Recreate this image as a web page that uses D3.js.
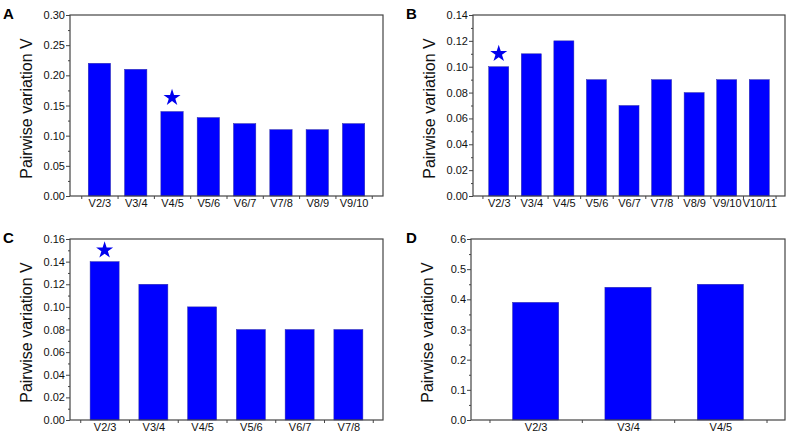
<!DOCTYPE html>
<meta charset="utf-8">
<html lang="en">
<head>
<script src="https://d3js.org/d3.v7.min.js"></script>
<style>
  body { margin: 0; background: #fff; }
  text { font-family: Arial, "Liberation Sans", sans-serif; }
</style>
</head>
<body>
<div id="my_dataviz"></div>
<script>
// data
var catsA = ["V2/3", "V3/4", "V4/5", "V5/6", "V6/7", "V7/8", "V8/9", "V9/10"];
var valsA = [0.22, 0.21, 0.14, 0.13, 0.12, 0.11, 0.11, 0.12];
var ticksA = [0, 0.05, 0.10, 0.15, 0.20, 0.25, 0.30];

var catsB = ["V2/3", "V3/4", "V4/5", "V5/6", "V6/7", "V7/8", "V8/9", "V9/10", "V10/11"];
var valsB = [0.10, 0.11, 0.12, 0.09, 0.07, 0.09, 0.08, 0.09, 0.09];
var ticksB = [0, 0.02, 0.04, 0.06, 0.08, 0.10, 0.12, 0.14];

var catsC = ["V2/3", "V3/4", "V4/5", "V5/6", "V6/7", "V7/8"];
var valsC = [0.14, 0.12, 0.10, 0.08, 0.08, 0.08];
var ticksC = [0, 0.02, 0.04, 0.06, 0.08, 0.10, 0.12, 0.14, 0.16];

var catsD = ["V2/3", "V3/4", "V4/5"];
var valsD = [0.39, 0.44, 0.45];
var ticksD = [0, 0.1, 0.2, 0.3, 0.4, 0.5, 0.6];

// star marks the chosen pair: [category, height in data units]
var starA = ["V4/5", 0.163];
var starB = ["V2/3", 0.11];
var starC = ["V2/3", 0.15];

var width = 789, height = 438;
var svg = d3.select("#my_dataviz").append("svg")
  .attr("width", width)
  .attr("height", height);

var panels = [
  { letter: "A", cats: catsA, vals: valsA, ticks: ticksA, digits: 2, star: starA,
    x0: 70, x1: 383, y0: 15, y1: 196, pad: 0.81, bw: 0.615 },
  { letter: "B", cats: catsB, vals: valsB, ticks: ticksB, digits: 2, star: starB,
    x0: 473, x1: 785, y0: 15, y1: 196, pad: 0.79, bw: 0.615 },
  { letter: "C", cats: catsC, vals: valsC, ticks: ticksC, digits: 2, star: starC,
    x0: 70, x1: 383, y0: 239, y1: 420, pad: 0.71, bw: 0.595 },
  { letter: "D", cats: catsD, vals: valsD, ticks: ticksD, digits: 1, star: null,
    x0: 471, x1: 785, y0: 239, y1: 420, pad: 0.70, bw: 0.5 }
];

var frameColor = "#444";

panels.forEach(function (p) {
  var n = p.cats.length;
  var x = d3.scaleLinear().domain([-p.pad, n - 1 + p.pad]).range([p.x0, p.x1]);
  var y = d3.scaleLinear().domain([0, p.ticks[p.ticks.length - 1]]).range([p.y1, p.y0]);
  var g = svg.append("g");

  // bars
  var bwPx = (x(1) - x(0)) * p.bw;
  g.selectAll("rect.bar")
    .data(p.vals)
    .enter()
    .append("rect")
    .attr("class", "bar")
    .attr("x", function (d, i) { return x(i) - bwPx / 2; })
    .attr("y", function (d) { return y(d); })
    .attr("width", bwPx)
    .attr("height", function (d) { return y(0) - y(d); })
    .attr("fill", "#0000ff")
    .attr("stroke", "#3030a8")
    .attr("stroke-width", 0.5);

  // star
  if (p.star) {
    var star = d3.symbol().type(d3.symbolStar).size(90);
    g.append("path")
      .attr("d", star())
      .attr("transform", "translate(" + x(p.cats.indexOf(p.star[0])) + "," + y(p.star[1]) + ")")
      .attr("fill", "#0000ee");
  }

  // y axis (major + minor ticks)
  var minor = [];
  for (var i = 0; i < p.ticks.length - 1; i++) minor.push((p.ticks[i] + p.ticks[i + 1]) / 2);
  g.append("g")
    .attr("transform", "translate(" + p.x0 + ",0)")
    .call(d3.axisLeft(y).tickValues(minor).tickSize(2).tickFormat(""))
    .call(function (a) { a.select(".domain").remove(); a.selectAll("line").attr("stroke", frameColor); });
  g.append("g")
    .attr("transform", "translate(" + p.x0 + ",0)")
    .call(d3.axisLeft(y).tickValues(p.ticks).tickSize(4).tickPadding(1)
      .tickFormat(d3.format("." + p.digits + "f")))
    .call(function (a) {
      a.select(".domain").remove();
      a.selectAll("line").attr("stroke", frameColor);
      a.selectAll("text").attr("font-size", 11).attr("fill", "#111")
        .attr("font-family", "Arial, 'Liberation Sans', sans-serif");
    });

  // x axis: ticks at category boundaries, labels under bars
  var bounds = d3.range(n + 1).map(function (k) { return k - 0.5; });
  g.append("g")
    .attr("transform", "translate(0," + p.y1 + ")")
    .call(d3.axisBottom(x).tickValues(bounds).tickSize(3).tickFormat(""))
    .call(function (a) { a.select(".domain").remove(); a.selectAll("line").attr("stroke", frameColor); });
  g.append("g")
    .attr("transform", "translate(0," + p.y1 + ")")
    .call(d3.axisBottom(x).tickValues(d3.range(n)).tickSize(0).tickPadding(3)
      .tickFormat(function (d) { return p.cats[d]; }))
    .call(function (a) {
      a.select(".domain").remove();
      a.selectAll("text").attr("font-size", 11).attr("fill", "#111")
        .attr("font-family", "Arial, 'Liberation Sans', sans-serif");
    });

  // frame
  g.append("rect")
    .attr("x", p.x0).attr("y", p.y0)
    .attr("width", p.x1 - p.x0).attr("height", p.y1 - p.y0)
    .attr("fill", "none")
    .attr("stroke", frameColor)
    .attr("stroke-width", 1.2);

  // y title
  g.append("text")
    .attr("transform", "translate(" + (p.x0 - 38) + "," + ((p.y0 + p.y1) / 2 + 3) + ") rotate(-90)")
    .attr("text-anchor", "middle")
    .attr("font-size", 16)
    .attr("fill", "#111")
    .text("Pairwise variation V");

  // panel letter
  g.append("text")
    .attr("x", p.x0 < 200 ? 3 : 406)
    .attr("y", p.y0 + 3.5)
    .attr("font-size", 15)
    .attr("font-weight", "bold")
    .attr("fill", "#000")
    .text(p.letter);
});
</script>
</body>
</html>
